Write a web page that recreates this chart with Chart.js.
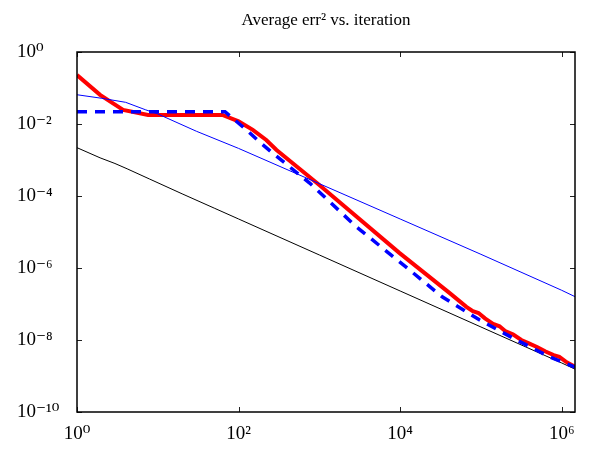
<!DOCTYPE html>
<html><head><meta charset="utf-8">
<script src="https://cdn.jsdelivr.net/npm/chart.js@4/dist/chart.umd.min.js"></script>
<style>html,body{margin:0;padding:0;background:#fff;}</style>
</head><body>
<canvas id="c" width="589" height="449"></canvas>
<script>
const titleText = 'Average err² vs. iteration';
const xTickValues = [1, 100, 1e4, 1e6];
const xTickLabels = ['10⁰', '10²', '10⁴', '10⁶'];
const yTickValues = [1e-10, 1e-8, 1e-6, 1e-4, 1e-2, 1];
const yTickLabels = ['10⁻¹⁰', '10⁻⁸', '10⁻⁶', '10⁻⁴', '10⁻²', '10⁰'];
const xMin = 1, xMax = 1.46e6, yMin = 1e-10, yMax = 1;

// red thick solid
const redX = [1, 1.93, 3.72, 7.59, 63.1, 100, 150, 220, 295, 933, 9772, 40738, 66069, 79433, 93325, 112202, 141254, 169824, 199526, 251189, 316228, 398107, 501187, 630957, 794328, 933254, 1122018, 1460000];
const redY = [0.229, 0.0646, 0.0245, 0.0178, 0.0178, 0.0118, 6.9e-3, 3.6e-3, 1.9e-3, 2.29e-4, 2.63e-6, 2.04e-7, 8.3e-8, 6.3e-8, 5.6e-8, 3.98e-8, 2.82e-8, 2.4e-8, 1.78e-8, 1.41e-8, 1.0e-8, 7.9e-9, 6.3e-9, 4.8e-9, 3.8e-9, 3.4e-9, 2.5e-9, 1.8e-9];
// blue dashed
const dashX = [1, 68, 126, 182, 282, 759, 2884, 13183, 33113, 95499, 245471, 707946, 1460000];
const dashY = [0.0219, 0.0219, 6.76e-3, 3.16e-3, 1.38e-3, 2.29e-4, 1.38e-5, 8.7e-7, 1.58e-7, 3.63e-8, 1.15e-8, 3.39e-9, 1.75e-9];
// blue thin solid
const blueX = [1, 2, 4, 7, 10, 30, 100, 1000, 1e4, 1e5, 1e6, 1460000];
const blueY = [0.065, 0.052, 0.040, 0.025, 0.019, 6.3e-3, 2.1e-3, 2.2e-4, 2.3e-5, 2.4e-6, 2.4e-7, 1.6e-7];
// black thin solid
const blackX = [1, 1.93, 2.95, 4.17, 7.94, 20, 50, 100, 1000, 1e4, 1e5, 1e6, 1460000];
const blackY = [2.2e-3, 1.15e-3, 8.0e-4, 5.7e-4, 2.95e-4, 1.15e-4, 4.6e-5, 2.3e-5, 2.3e-6, 2.3e-7, 2.3e-8, 2.3e-9, 1.55e-9];

const pts = (xs, ys) => xs.map((x, i) => ({x, y: ys[i]}));
const serif = "'Liberation Serif', 'DejaVu Serif', serif";

const framePlugin = {
  id: 'frame',
  afterDatasetsDraw(chart) {
    const {ctx, chartArea: a, scales: {x, y}} = chart;
    ctx.save();
    ctx.strokeStyle = '#222';
    ctx.lineWidth = 1;
    xTickValues.forEach(v => {
      const p = Math.round(x.getPixelForValue(v)) + 0.5;
      ctx.beginPath();
      ctx.moveTo(p, a.bottom); ctx.lineTo(p, a.bottom - 5);
      ctx.moveTo(p, a.top); ctx.lineTo(p, a.top + 5);
      ctx.stroke();
    });
    yTickValues.forEach(v => {
      const p = Math.round(y.getPixelForValue(v)) + 0.5;
      ctx.beginPath();
      ctx.moveTo(a.left, p); ctx.lineTo(a.left + 5, p);
      ctx.moveTo(a.right, p); ctx.lineTo(a.right - 5, p);
      ctx.stroke();
    });
    ctx.strokeStyle = '#000';
    ctx.lineWidth = 1.5;
    ctx.strokeRect(a.left, a.top, a.right - a.left, a.bottom - a.top);
    ctx.restore();
  }
};

new Chart(document.getElementById('c'), {
  type: 'line',
  data: {
    datasets: [
      {data: pts(dashX, dashY), borderColor: '#0000ff', borderWidth: 3.5, borderDash: [10, 8], pointRadius: 0, tension: 0},
      {data: pts(blueX, blueY), borderColor: '#0000ff', borderWidth: 1, pointRadius: 0, tension: 0},
      {data: pts(redX, redY), borderColor: '#ff0000', borderWidth: 4, pointRadius: 0, tension: 0},
      {data: pts(blackX, blackY), borderColor: '#000000', borderWidth: 1, pointRadius: 0, tension: 0}
    ]
  },
  options: {
    responsive: false,
    animation: false,
    devicePixelRatio: 1,
    layout: {padding: {left: 17, right: 14, top: 0, bottom: 0}},
    plugins: {
      legend: {display: false},
      tooltip: {enabled: false},
      title: {
        display: true, text: titleText, fullSize: false, color: '#000',
        font: {family: serif, size: 17, weight: 'normal'},
        padding: {top: 10, bottom: 21.6}
      }
    },
    scales: {
      x: {
        type: 'logarithmic', position: 'bottom', min: xMin, max: xMax,
        grid: {display: false, drawTicks: false}, border: {display: false},
        ticks: {autoSkip: false, maxRotation: 0, padding: 11, color: '#000',
          font: {family: serif, size: 19}, callback: (v, i) => xTickLabels[i]},
        afterBuildTicks: s => { s.ticks = xTickValues.map(v => ({value: v})); },
        afterFit: s => { s.height = 37; }
      },
      y: {
        type: 'logarithmic', position: 'left', min: yMin, max: yMax,
        grid: {display: false, drawTicks: false}, border: {display: false},
        ticks: {autoSkip: false, crossAlign: 'far', color: '#000',
          font: {family: serif, size: 19}, callback: (v, i) => yTickLabels[i]},
        afterBuildTicks: s => { s.ticks = yTickValues.map(v => ({value: v})); },
        afterFit: s => { s.width = 60; }
      }
    }
  },
  plugins: [framePlugin]
});
</script>
</body></html>
